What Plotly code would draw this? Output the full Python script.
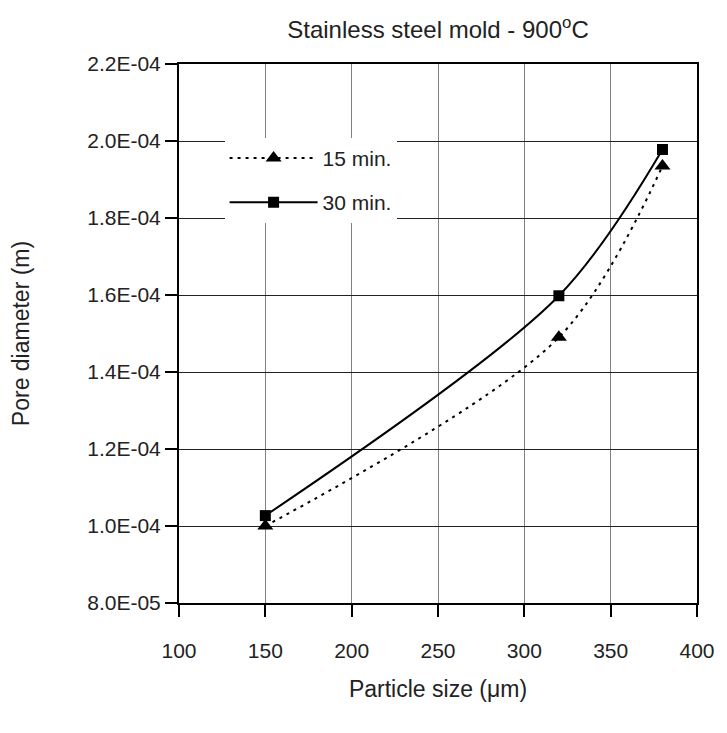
import plotly.graph_objects as go

particle_size = [150, 320, 380]
pore_15min = [1.00e-4, 1.49e-4, 1.935e-4]
pore_30min = [1.027e-4, 1.598e-4, 1.978e-4]

x_ticks = [100, 150, 200, 250, 300, 350, 400]
y_ticks = [8.0e-5, 1.0e-4, 1.2e-4, 1.4e-4, 1.6e-4, 1.8e-4, 2.0e-4, 2.2e-4]
y_tick_text = ["8.0E-05", "1.0E-04", "1.2E-04", "1.4E-04", "1.6E-04", "1.8E-04", "2.0E-04", "2.2E-04"]

FONT = "Liberation Sans, Arial, sans-serif"

fig = go.Figure()
fig.add_trace(go.Scatter(
    x=particle_size, y=pore_15min, name="15 min.", mode="lines+markers",
    line=dict(color="black", width=2, dash="3px,5px", shape="spline", smoothing=0.9),
    marker=dict(symbol="triangle-up", size=14, color="black"),
    legendgroup="a",
))
fig.add_trace(go.Scatter(
    x=particle_size, y=pore_30min, name="30 min.", mode="lines+markers",
    line=dict(color="black", width=2, shape="spline", smoothing=0.9),
    marker=dict(symbol="square", size=11, color="black"),
    legendgroup="b",
))

fig.update_layout(
    width=727, height=733,
    margin=dict(l=179, r=25, t=64, b=130),
    paper_bgcolor="white", plot_bgcolor="white",
    font=dict(family=FONT, size=21, color="#222"),
    title=dict(text="Stainless steel mold - 900<sup>o</sup>C", x=0.5, xref="paper",
               xanchor="center", y=0.959, yref="container", yanchor="middle",
               font=dict(size=24)),
    showlegend=True,
    legend=dict(x=0.088, y=0.863, xanchor="left", yanchor="top",
                bgcolor="white", borderwidth=0, itemwidth=88,
                traceorder="grouped", tracegroupgap=14,
                font=dict(size=21, color="#222")),
    xaxis=dict(range=[100, 400], tickvals=x_ticks, showgrid=True,
               gridcolor="#808080", gridwidth=1, zeroline=False,
               showline=True, linecolor="black", linewidth=2, mirror=True,
               ticks="outside", ticklen=12, tickwidth=2, tickcolor="black",
               ticklabelstandoff=16,
               title=dict(text="Particle size (μm)", standoff=20, font=dict(size=23))),
    yaxis=dict(range=[8e-5, 2.2e-4], tickvals=y_ticks, ticktext=y_tick_text,
               showgrid=True, gridcolor="#222", gridwidth=1, zeroline=False,
               showline=True, linecolor="black", linewidth=2, mirror=True,
               ticks="outside", ticklen=12, tickwidth=2, tickcolor="black",
               title=dict(text="Pore diameter (m)", standoff=51, font=dict(size=23))),
)

fig.write_html("out.html")
